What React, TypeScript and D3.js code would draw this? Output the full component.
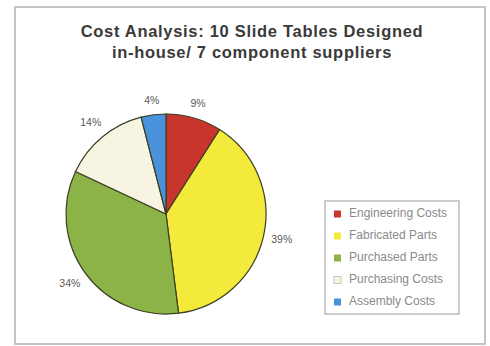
import React from "react";
import * as d3 from "d3";

const categories = ["Engineering Costs", "Fabricated Parts", "Purchased Parts", "Purchasing Costs", "Assembly Costs"];
const values = [9, 39, 34, 14, 4];
const colors = ["#c8352c", "#f3ea3c", "#8cb348", "#f7f5e2", "#4a92db"];
const titleLines = ["Cost Analysis: 10 Slide Tables Designed", "in-house/ 7 component suppliers"];

const FONT = "Helvetica, Arial, 'Liberation Sans', sans-serif";

export default function App() {
  const W = 490, H = 346;
  const cx = 166, cy = 214, r = 100;
  const pie = d3.pie<number>().sort(null).value(d => d)(values);
  const arc = d3.arc<d3.PieArcDatum<number>>().innerRadius(0).outerRadius(r);
  const total = d3.sum(values);
  const legendY = d3.scaleBand<string>().domain(categories).range([203, 313]);
  return (
    <svg width={W} height={H} style={{ position: "absolute", left: 0, top: 0, background: "#fff" }}>
      <rect x={15} y={7} width={470} height={337} fill="#fff" stroke="#c4c4c4" strokeWidth={2} />
      {titleLines.map((t, i) => (
        <text key={i} x={252} y={37 + i * 21} textAnchor="middle" fontFamily={FONT} fontSize={16.5} letterSpacing={0.7} fontWeight="bold" fill="#3a3a3a">{t}</text>
      ))}
      <g transform={`translate(${cx},${cy})`}>
        {pie.map((p, i) => (
          <path key={i} d={arc(p) || ""} fill={colors[i]} stroke="#3b3f22" strokeWidth={1.2} />
        ))}
        {pie.map((p, i) => {
          const label = Math.round((values[i] / total) * 100) + "%";
          const a = (p.startAngle + p.endAngle) / 2;
          const s = Math.sin(a), c = Math.cos(a);
          const w = label.length * 6.5, h = 10;
          const lr = r + 8 + (w / 2) * Math.abs(s) + (h / 2) * Math.abs(c);
          return (
            <text key={"l" + i} x={lr * s} y={-lr * c} textAnchor="middle" dominantBaseline="middle" fontFamily={FONT} fontSize={10.5} fill="#5a5a5a">
              {label}
            </text>
          );
        })}
      </g>
      <rect x={325} y={201} width={134} height={113} fill="#fff" stroke="#bdbdbd" strokeWidth={1.5} />
      {categories.map((c, i) => {
        const y = (legendY(c) || 0) + legendY.bandwidth() / 2;
        return (
          <g key={c}>
            <rect x={334} y={y - 3.5} width={7} height={7} fill={colors[i]} stroke={i === 3 ? "#bbb" : "none"} strokeWidth={0.8} />
            <text x={349} y={y} dominantBaseline="middle" fontFamily={FONT} fontSize={12} fill="#8a8a8a">{c}</text>
          </g>
        );
      })}
    </svg>
  );
}
